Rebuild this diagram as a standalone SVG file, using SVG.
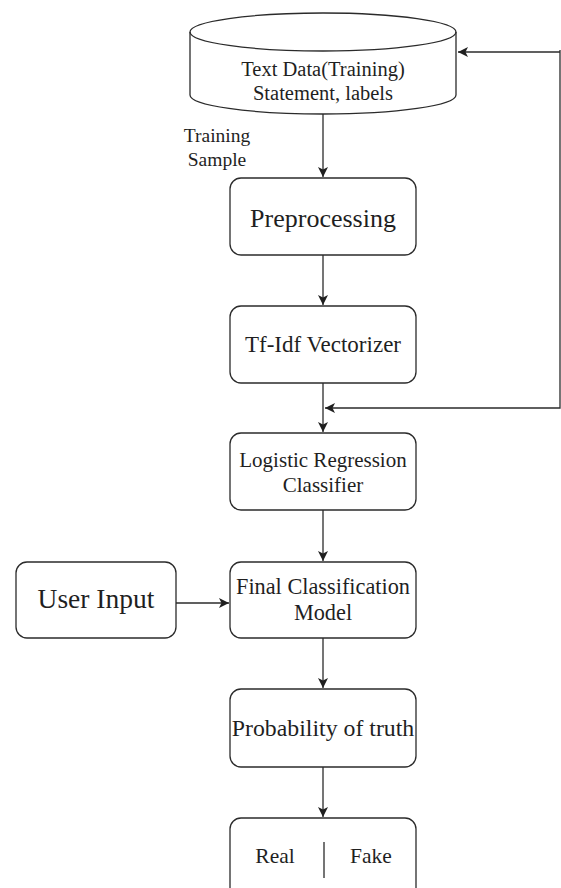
<svg xmlns="http://www.w3.org/2000/svg" width="561" height="888" viewBox="0 0 561 888">
<style>
.box{fill:#fff;stroke:#2b2b2b;stroke-width:1.3}
.t{fill:#1f1f1f;text-anchor:middle}
.ln{fill:none;stroke:#2b2b2b;stroke-width:1.3}
</style>
<defs>
<marker id="ah" viewBox="0 0 10 10" refX="10" refY="5" markerWidth="10" markerHeight="10" markerUnits="userSpaceOnUse" orient="auto">
<path d="M0,0 L10,5 L0,10 L2.5,5 Z" fill="#1f1f1f"/>
</marker>
</defs>
<rect width="561" height="888" fill="#fff"/>
<g id="connectors">
<line class="ln" x1="323" y1="114" x2="323" y2="177" marker-end="url(#ah)"/>
<line class="ln" x1="323" y1="255" x2="323" y2="305" marker-end="url(#ah)"/>
<line class="ln" x1="323" y1="383" x2="323" y2="432" marker-end="url(#ah)"/>
<polyline class="ln" points="560,50 560,408 325,408" marker-end="url(#ah)"/>
<line class="ln" x1="560" y1="52" x2="458" y2="52" marker-end="url(#ah)"/>
<line class="ln" x1="323" y1="510" x2="323" y2="561" marker-end="url(#ah)"/>
<line class="ln" x1="176" y1="603" x2="229" y2="603" marker-end="url(#ah)"/>
<line class="ln" x1="323" y1="638" x2="323" y2="688" marker-end="url(#ah)"/>
<line class="ln" x1="323" y1="767" x2="323" y2="817" marker-end="url(#ah)"/>
</g>
<g font-family="Liberation Serif, serif">
<g id="textdata">
<path class="box" d="M190,32 A133,19 0 0 1 456,32 L456,95 A133,19 0 0 1 190,95 Z"/>
<path class="ln" d="M190,32 A133,19 0 0 0 456,32"/>
<text class="t" x="323" y="76" font-size="20.5">Text Data(Training)</text>
<text class="t" x="323" y="100" font-size="20.5">Statement, labels</text>
</g>
<g id="trainingsample">
<text class="t" x="217" y="142" font-size="19.5">Training</text>
<text class="t" x="217" y="166" font-size="19.5">Sample</text>
</g>
<g id="preprocessing">
<rect class="box" x="230" y="178" width="186" height="77" rx="11"/>
<text class="t" x="323" y="227" font-size="26">Preprocessing</text>
</g>
<g id="tfidf">
<rect class="box" x="230" y="306" width="186" height="77" rx="11"/>
<text class="t" x="323" y="352" font-size="23">Tf-Idf Vectorizer</text>
</g>
<g id="logistic">
<rect class="box" x="230" y="433" width="186" height="77" rx="11"/>
<text class="t" x="323" y="467" font-size="21">Logistic Regression</text>
<text class="t" x="323" y="492" font-size="21">Classifier</text>
</g>
<g id="userinput">
<rect class="box" x="16" y="562" width="160" height="76" rx="11"/>
<text class="t" x="96" y="608" font-size="27.5">User Input</text>
</g>
<g id="finalmodel">
<rect class="box" x="230" y="562" width="186" height="76" rx="11"/>
<text class="t" x="323" y="594" font-size="22.3">Final Classification</text>
<text class="t" x="323" y="620" font-size="22.3">Model</text>
</g>
<g id="probability">
<rect class="box" x="230" y="689" width="186" height="78" rx="11"/>
<text class="t" x="323" y="736" font-size="23.8">Probability of truth</text>
</g>
<g id="realfake">
<rect class="box" x="230" y="818" width="186" height="90" rx="11"/>
<line class="ln" x1="324" y1="842" x2="324" y2="878"/>
<text class="t" x="275" y="863" font-size="21.5">Real</text>
<text class="t" x="371" y="863" font-size="21.5">Fake</text>
</g>
</g>
</svg>
